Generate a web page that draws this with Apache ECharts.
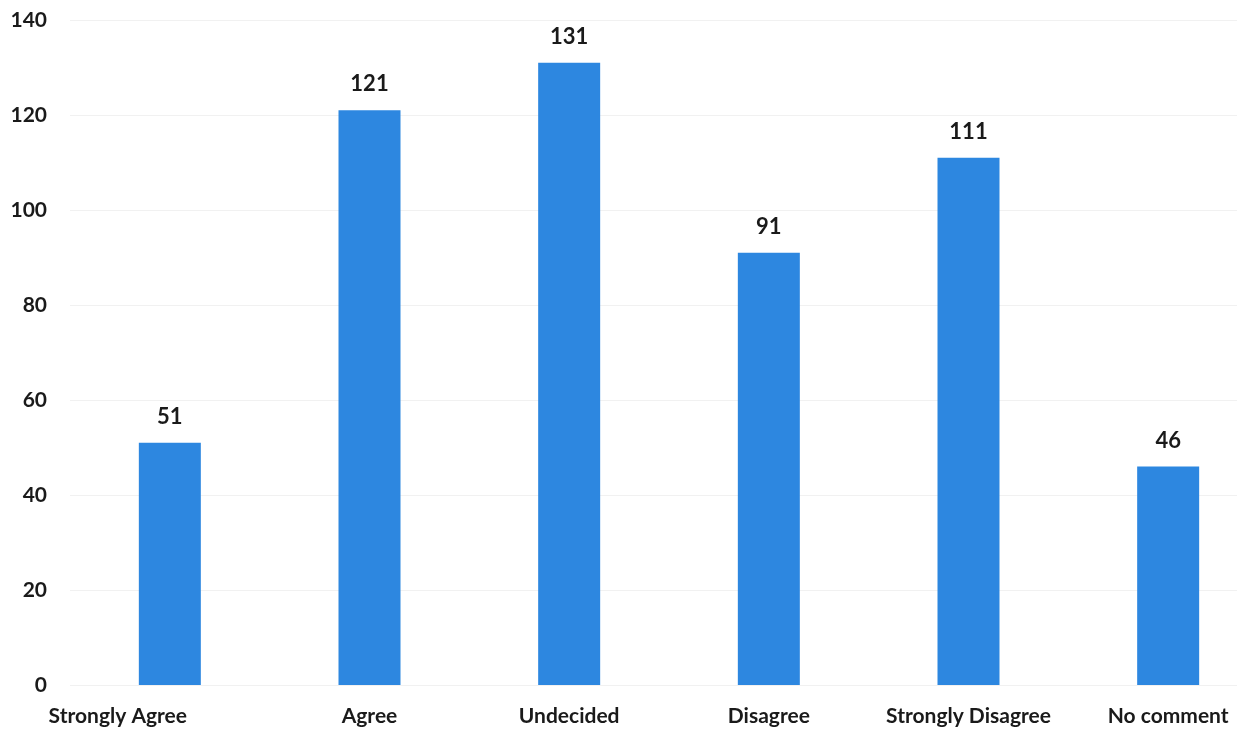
<!DOCTYPE html>
<html><head><meta charset="utf-8">
<script src="https://cdn.jsdelivr.net/npm/echarts@6/dist/echarts.min.js"></script>
<style>html,body{margin:0;padding:0;background:#fff}#c{width:1237px;height:732px}</style>
</head><body><div id="c"></div>
<script>
const categories = ['Strongly Agree','Agree','Undecided','Disagree','Strongly Disagree','No comment'];
const values = [51,121,131,91,111,46];
const yTicks = [0,20,40,60,80,100,120,140];

const font = 'Lato, "Open Sans", sans-serif';
const chart = echarts.init(document.getElementById('c'));
chart.setOption({
  backgroundColor:'#ffffff',
  animation:false,
  grid:{left:70,right:-31,top:20,bottom:47,containLabel:false,outerBoundsMode:'none'},
  xAxis:{type:'category',data:categories.map((c,i)=> i===0 ? {value:c,textStyle:{padding:[0,104,0,0]}} : c),
    axisLine:{show:false},axisTick:{show:false},
    axisLabel:{color:'#1a1a1a',fontWeight:'bold',fontSize:21,fontFamily:font,margin:21,interval:0}},
  yAxis:{type:'value',min:yTicks[0],max:yTicks[yTicks.length-1],interval:20,
    axisLine:{show:false},axisTick:{show:false},
    axisLabel:{color:'#1a1a1a',fontWeight:'bold',fontSize:21,fontFamily:font,margin:23},
    splitLine:{lineStyle:{color:'#f1f1f1',width:1}}},
  series:[{type:'bar',data:values,barWidth:62,
    itemStyle:{color:'#2d87e0'},
    label:{show:true,position:'top',distance:15,color:'#1a1a1a',fontWeight:'bold',fontSize:22,fontFamily:font}}]
});
</script></body></html>
